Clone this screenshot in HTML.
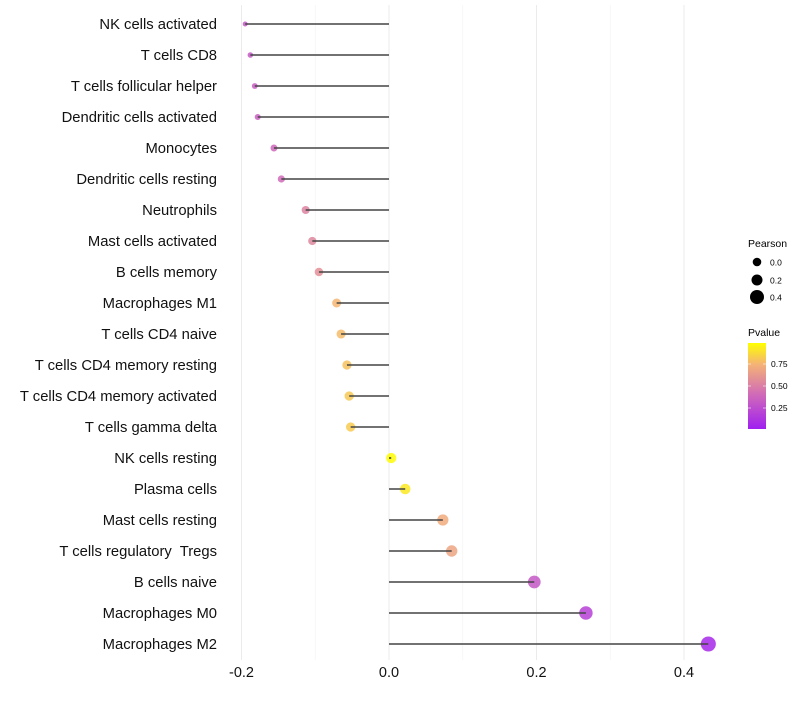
<!DOCTYPE html>
<html><head><meta charset="utf-8"><style>
body{margin:0;background:#fff;}
svg text{font-family:"Liberation Sans",sans-serif;white-space:pre;}
</style></head><body>
<svg id="chart" width="800" height="700">
<defs><linearGradient id="pg" x1="0" y1="1" x2="0" y2="0">
<stop offset="0" stop-color="#a020f0"/><stop offset="0.4" stop-color="#d06ab8"/>
<stop offset="0.75" stop-color="#f4b276"/><stop offset="1" stop-color="#ffff00"/></linearGradient></defs>
<g id="grid"></g><g id="dots"></g><g id="marks"></g><g id="labels"></g>
<g>
<text x="748" y="247" font-size="10.5">Pearson</text>
<circle cx="757" cy="262" r="4.3" fill="#000"/><text x="770" y="265.5" font-size="8.5">0.0</text>
<circle cx="757" cy="280" r="5.5" fill="#000"/><text x="770" y="283.5" font-size="8.5">0.2</text>
<circle cx="757" cy="297" r="7" fill="#000"/><text x="770" y="300.5" font-size="8.5">0.4</text>
<text x="748" y="336" font-size="10.5">Pvalue</text>
<rect x="748" y="343" width="18" height="86" fill="url(#pg)"/>
<g stroke="#fff" stroke-width="0.8" opacity="0.7"><line x1="748" x2="751" y1="364" y2="364"/><line x1="763" x2="766" y1="364" y2="364"/><line x1="748" x2="751" y1="386" y2="386"/><line x1="763" x2="766" y1="386" y2="386"/><line x1="748" x2="751" y1="408" y2="408"/><line x1="763" x2="766" y1="408" y2="408"/></g>
<text x="771" y="367" font-size="8.5">0.75</text><text x="771" y="389" font-size="8.5">0.50</text><text x="771" y="411" font-size="8.5">0.25</text>
</g>
</svg>
<script>
const categories=["NK cells activated","T cells CD8","T cells follicular helper","Dendritic cells activated","Monocytes","Dendritic cells resting","Neutrophils","Mast cells activated","B cells memory","Macrophages M1","T cells CD4 naive","T cells CD4 memory resting","T cells CD4 memory activated","T cells gamma delta","NK cells resting","Plasma cells","Mast cells resting","T cells regulatory  Tregs","B cells naive","Macrophages M0","Macrophages M2"];
const pearson=[-0.195,-0.188,-0.182,-0.178,-0.156,-0.146,-0.113,-0.104,-0.095,-0.071,-0.065,-0.057,-0.054,-0.052,0.003,0.022,0.073,0.085,0.197,0.267,0.433];
const pvalue=[0.3,0.3,0.33,0.34,0.38,0.4,0.52,0.54,0.58,0.76,0.78,0.8,0.82,0.83,0.99,0.93,0.72,0.68,0.3,0.18,0.05];
const xTicks=[-0.2,0,0.2,0.4];
const xTickLabels=["-0.2","0.0","0.2","0.4"];
const minorTicks=[-0.1,0.1,0.3];
const NS="http://www.w3.org/2000/svg";
const xs=v=>389+v*737.5;
const ys=i=>24+i*31;
const rs=v=>2+5.5*Math.sqrt(Math.max(0,v+0.2)/0.63);
function lerp(a,b,t){return a.map((x,i)=>Math.round(x+(b[i]-x)*t));}
const stops=[[0,[160,32,240]],[0.4,[208,106,184]],[0.75,[244,178,118]],[1,[255,255,0]]];
function col(p){for(let k=1;k<stops.length;k++){if(p<=stops[k][0]){const t=(p-stops[k-1][0])/(stops[k][0]-stops[k-1][0]);return "rgb("+lerp(stops[k-1][1],stops[k][1],t).join(",")+")";}}return "rgb(255,255,0)";}
function mk(t,a,p){const e=document.createElementNS(NS,t);for(const k in a)e.setAttribute(k,a[k]);p.appendChild(e);return e;}
const grid=document.getElementById("grid"),marks=document.getElementById("marks"),dots=document.getElementById("dots"),labels=document.getElementById("labels");
minorTicks.forEach(v=>{const l=mk("line",{x1:xs(v),x2:xs(v),y1:5,y2:660,stroke:"#f3f3f3","stroke-width":0.7},grid);

});
xTicks.forEach((v,i)=>{const l=mk("line",{x1:xs(v),x2:xs(v),y1:5,y2:660,stroke:"#ebebeb","stroke-width":1},grid);


const t=mk("text",{x:xs(v),y:677,"text-anchor":"middle","font-size":14.5,fill:"#111"},labels);t.textContent=xTickLabels[i];

});
categories.forEach((c,i)=>{const y=ys(i);
const t=mk("text",{x:217,y:y+5,"text-anchor":"end","font-size":14.8,fill:"#111"},labels);t.textContent=c;


const d=mk("circle",{cx:xs(pearson[i]),cy:y,r:rs(pearson[i]),fill:col(pvalue[i]),"fill-opacity":0.85},dots);


const s=mk("line",{x1:xs(0),x2:xs(pearson[i]),y1:y,y2:y,stroke:"#444","stroke-width":1.6},marks);

});
</script>
</body></html>
